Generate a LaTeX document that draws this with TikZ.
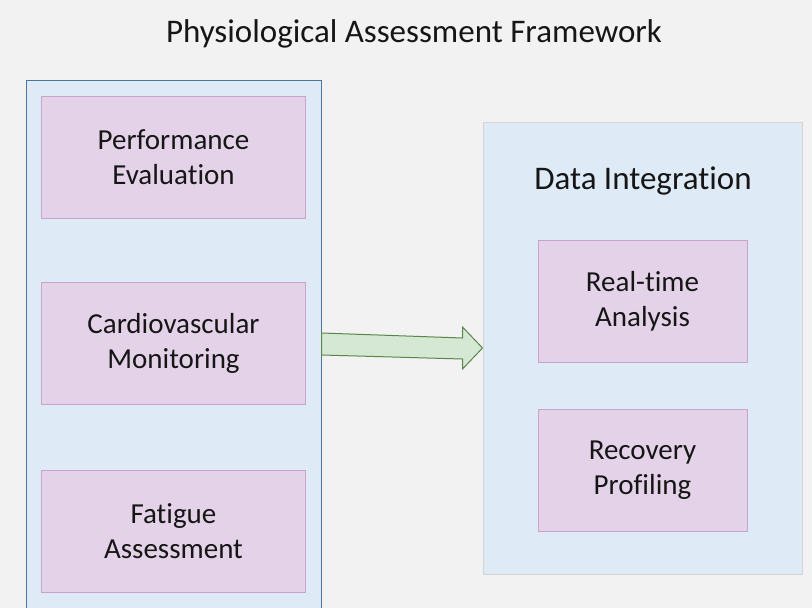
\documentclass[tikz,border=0pt]{standalone}
\usepackage{fontspec}
\setmainfont{Carlito}[RawFeature={-liga;-clig;-calt;-dlig}]
\usetikzlibrary{calc}
\definecolor{pagebg}{HTML}{F2F2F2}
\definecolor{groupfill}{HTML}{DEEAF6}
\definecolor{groupline}{HTML}{4C74A0}
\definecolor{grayline}{HTML}{D3D3D3}
\definecolor{itemfill}{HTML}{E4D3E8}
\definecolor{itemline}{HTML}{C9A3CB}
\definecolor{arrowfill}{HTML}{D5E8D4}
\definecolor{arrowline}{HTML}{5A8649}
\definecolor{inktext}{HTML}{161616}
\begin{document}
\begin{tikzpicture}[x=1pt,y=-1pt,
  group/.style={fill=groupfill, line width=1pt, inner sep=0pt},
  item/.style={draw=itemline, fill=itemfill, line width=1pt, align=center,
    inner sep=0pt, text=inktext, font=\fontsize{29}{35}\selectfont},
  leftitem/.style={item, minimum width=264pt, minimum height=122pt},
  rightitem/.style={item, minimum width=209pt, minimum height=122pt},
  heading/.style={text=inktext, font=\fontsize{33}{40}\selectfont, inner sep=0pt},
  blockarrow/.style={draw=arrowline, fill=arrowfill, line width=1pt, line join=miter}]
\clip (0,0) rectangle (812,608);
\fill[pagebg] (0,0) rectangle (812,608);

% title
\node[heading] (title) at (414,33.5) {Physiological Assessment Framework};

% left group (runs off the bottom edge)
\node[group, draw=groupline, minimum width=295pt, minimum height=550pt] (left) at (173.5,355) {};
\node[leftitem] (perf) at (173.5,157) {Performance\\Evaluation};
\node[leftitem] (cardio) at (173.5,343.5) {Cardiovascular\\Monitoring};
\node[leftitem] (fatigue) at (173.5,531.5) {Fatigue\\Assessment};

% right group
\node[group, draw=grayline, minimum width=319pt, minimum height=452pt] (right) at (642.5,348) {};
\node[heading] (dataint) at (643,181) {Data Integration};
\node[rightitem] (realtime) at (642.5,301.5) {Real-time\\Analysis};
\node[rightitem] (recovery) at (642.5,470) {Recovery\\Profiling};

% block arrow between the groups
\coordinate (tail) at (left.east |- 0,344);
\coordinate (tip) at (right.west |- 0,348);
\draw[blockarrow] ($(tail)+(0,-11)$) -- ($(tip)+(-20,-10)$) -- ($(tip)+(-20,-21)$)
  -- (tip) -- ($(tip)+(-20,21)$) -- ($(tip)+(-20,11)$) -- ($(tail)+(0,11)$) -- cycle;
\end{tikzpicture}
\end{document}
